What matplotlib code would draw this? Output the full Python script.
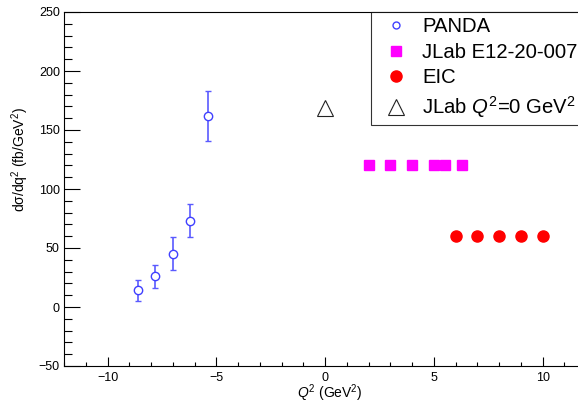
import numpy as np
import matplotlib
matplotlib.use("Agg")
import matplotlib.pyplot as plt
from matplotlib.ticker import MultipleLocator
from matplotlib.lines import Line2D

plt.rcParams['font.family'] = ['Liberation Sans', 'DejaVu Sans']
plt.rcParams['mathtext.fontset'] = 'custom'
plt.rcParams['mathtext.rm'] = 'Liberation Sans'
plt.rcParams['mathtext.it'] = 'Liberation Sans:italic'

# PANDA
panda_q2 = [-8.6, -7.8, -7.0, -6.2, -5.4]
panda_xs = [14, 26, 45, 73, 162]
panda_err = [9, 10, 14, 14, 21]

# JLab E12-20-007
jlab_q2 = [2, 3, 4, 5, 5.5, 6.3]
jlab_xs = [120, 120, 120, 120, 120, 120]

# EIC
eic_q2 = [6, 7, 8, 9, 10]
eic_xs = [60, 60, 60, 60, 60]

# JLab real photon point
jlab0_q2 = [0]
jlab0_xs = [169]

fig = plt.figure(figsize=(5.78, 4.03), dpi=100)
# axes run a bit past the right edge of the picture, like the cropped original
ax = fig.add_axes([64/578, 37/403, 533/578, 354/403])

ax.errorbar(panda_q2, panda_xs, yerr=panda_err, fmt='o', mfc='white', mec='#4040ff',
            ecolor='#5a5aff', mew=1.0, ms=6, capsize=2, elinewidth=1.2, capthick=1.0)
h2, = ax.plot(jlab_q2, jlab_xs, 's', color='#ff00ff', ms=6.5, ls='none')
h3, = ax.plot(eic_q2, eic_xs, 'o', color='#ff0000', ms=8, ls='none')
h4, = ax.plot(jlab0_q2, jlab0_xs, '^', mfc='none', mec='#222222', mew=0.8, ms=11, ls='none')
h1 = Line2D([], [], marker='o', ls='none', mfc='white', mec='#4040ff', mew=1.0, ms=5)

ax.set_xlim(-12, 12.5)
ax.set_ylim(-50, 250)
ax.xaxis.set_major_locator(MultipleLocator(5))
ax.xaxis.set_minor_locator(MultipleLocator(1))
ax.yaxis.set_major_locator(MultipleLocator(50))
ax.yaxis.set_minor_locator(MultipleLocator(10))
ax.tick_params(which='both', direction='in', top=False, right=False, labelsize=9, width=0.8)
ax.tick_params(axis='x', which='major', length=6.5, pad=4)
ax.tick_params(axis='x', which='minor', length=3.2)
ax.tick_params(axis='y', which='major', length=11.5, pad=3)
ax.tick_params(axis='y', which='minor', length=5.8)
for s in ax.spines.values():
    s.set_linewidth(0.8)

fig.text(330/578, 1 - 393/403, '$Q^2$ (GeV$^2$)', ha='center', va='center', fontsize=10)
fig.text(20/578, 1 - 160/403, 'd\u03c3/dq$^2$ (fb/GeV$^2$)', ha='center', va='center',
         rotation=90, fontsize=10)

leg = ax.legend([h1, h2, h3, h4],
                ['PANDA', 'JLab E12-20-007', 'EIC', 'JLab $Q^2$=0 GeV$^2$'],
                loc='upper left', bbox_to_anchor=(371/578, 391/403), bbox_transform=fig.transFigure,
                fontsize=14.6, frameon=True, fancybox=False, edgecolor='black',
                borderpad=0.25, labelspacing=0.33, handlelength=2.0, handletextpad=0.28,
                borderaxespad=0, numpoints=1)
leg.get_frame().set_linewidth(0.8)

fig.savefig('out.png', dpi=100)
